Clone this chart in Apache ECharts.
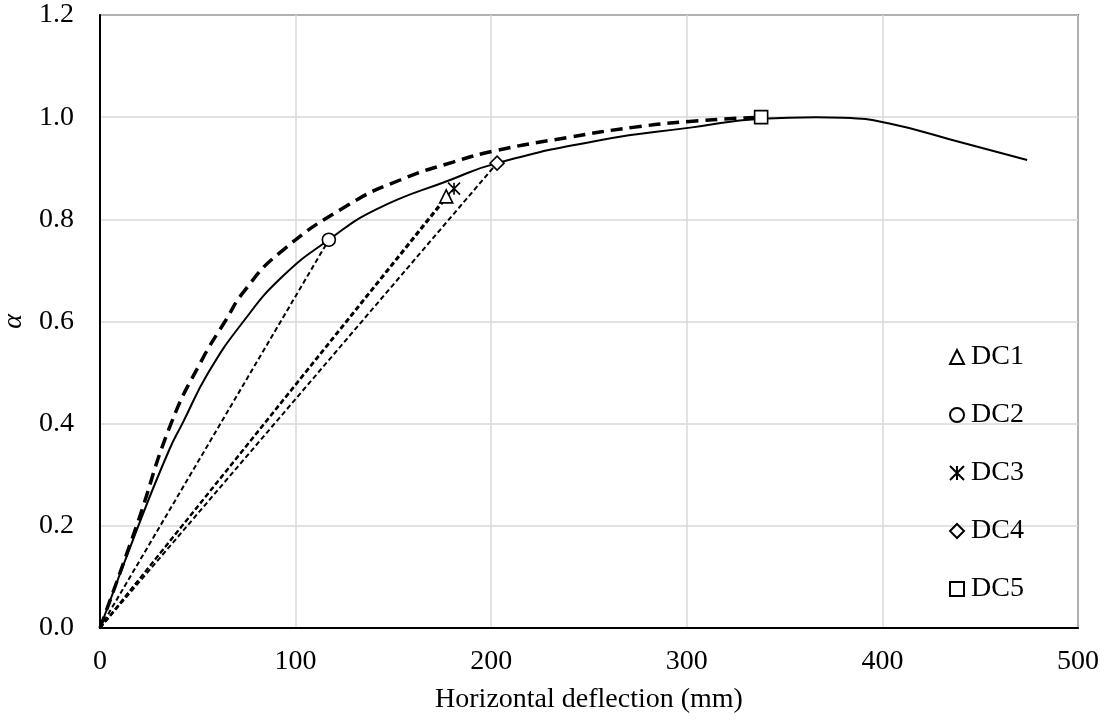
<!DOCTYPE html>
<html>
<head>
<meta charset="utf-8">
<script src="https://cdn.jsdelivr.net/npm/echarts@6/dist/echarts.min.js"></script>
<style>html,body{margin:0;padding:0;background:#fff}#c{width:1118px;height:722px}</style>
</head>
<body>
<div id="c"></div>
<script>
// Solid curve
const solidX = [0, 19.6, 35.3, 42.1, 55.4, 73.3, 93, 117, 141.5, 179, 203, 255.6, 302.7, 338, 366, 380, 403, 440, 474];
const solidY = [0, 0.2, 0.348, 0.4, 0.5, 0.6, 0.687, 0.76, 0.82, 0.877, 0.91, 0.955, 0.98, 0.997, 1.0, 0.999, 0.988, 0.951, 0.916];
// Thick dashed curve
const dashX = [0, 18.7, 36.3, 52, 63.9, 74, 92, 126.8, 153.4, 180.5, 203, 238.7, 272.5, 303, 338];
const dashY = [0, 0.2, 0.4, 0.524, 0.6, 0.661, 0.735, 0.828, 0.877, 0.912, 0.935, 0.96, 0.98, 0.992, 1.0];
// Marker points
const dcNames = ['DC1', 'DC2', 'DC3', 'DC4', 'DC5'];
const dcX = [177, 117, 181, 203, 338];
const dcY = [0.845, 0.76, 0.86, 0.91, 1.0];
const xTicks = [0, 100, 200, 300, 400, 500];
const yTicks = [0, 0.2, 0.4, 0.6, 0.8, 1.0, 1.2];

const FONT = '"Liberation Serif", "DejaVu Serif", serif';
const pairs = (xs, ys) => xs.map((x, i) => [x, ys[i]]);

const symbols = ['triangle', 'circle', 'path://M0,0 L10,10 M10,0 L0,10 M5,0 L5,10', 'diamond', 'rect'];
const sizes = [13, 13, 12, 14, 13];

const series = [];
// thin dashed lines from origin to DC1..DC4
for (let i = 0; i < 4; i++) {
  series.push({
    type: 'line', name: 'ray' + i, data: [[0, 0], [dcX[i], dcY[i]]],
    symbol: 'none', silent: true, z: 2,
    lineStyle: { color: '#000', width: 2, type: [5, 3] }
  });
}
series.push({
  type: 'line', name: 'solid', data: pairs(solidX, solidY), symbol: 'none',
  smooth: 0.5, z: 3,
  lineStyle: { color: '#000', width: 2 }
});
series.push({
  type: 'line', name: 'dash', data: pairs(dashX, dashY), symbol: 'none',
  smooth: 0.5, z: 3,
  lineStyle: { color: '#000', width: 3.5, type: [12, 7] }
});
dcNames.forEach((n, i) => {
  series.push({
    type: 'scatter', name: n, data: [[dcX[i], dcY[i]]],
    symbol: symbols[i], symbolSize: sizes[i], z: 5,
    itemStyle: { color: i === 2 ? 'rgba(0,0,0,0)' : '#fff', borderColor: '#000', borderWidth: 1.6, opacity: 1 }
  });
});

const chart = echarts.init(document.getElementById('c'), null, { renderer: 'canvas' });
chart.setOption({
  animation: false,
  backgroundColor: '#fff',
  textStyle: { fontFamily: FONT },
  grid: { left: 100, right: 40, top: 15, bottom: 94, containLabel: false, outerBoundsMode: 'none', show: true, borderColor: '#000', borderWidth: 1.5, backgroundColor: 'transparent' },
  xAxis: {
    type: 'value', min: xTicks[0], max: xTicks[xTicks.length - 1], interval: 100,
    name: 'Horizontal deflection (mm)', nameLocation: 'middle', nameGap: 58,
    nameTextStyle: { fontFamily: FONT, fontSize: 28, color: '#000' },
    axisLine: { lineStyle: { color: '#000', width: 2 } },
    axisTick: { show: false },
    axisLabel: { fontFamily: FONT, fontSize: 28, color: '#000', margin: 20 },
    splitLine: { lineStyle: { color: '#d9d9d9', width: 1.5 } }
  },
  yAxis: {
    type: 'value', min: yTicks[0], max: yTicks[yTicks.length - 1], interval: 0.2,
    name: 'α', nameLocation: 'middle', nameGap: 72, nameRotate: 90,
    nameTextStyle: { fontFamily: FONT, fontSize: 28, color: '#000', fontStyle: 'italic' },
    axisLine: { show: true, lineStyle: { color: '#000', width: 2 } },
    axisTick: { show: false },
    axisLabel: { fontFamily: FONT, fontSize: 28, color: '#000', margin: 26, formatter: v => v.toFixed(1) },
    splitLine: { lineStyle: { color: '#d9d9d9', width: 1.5 } }
  },
  legend: {
    data: dcNames, orient: 'vertical', left: 944, top: 337,
    itemWidth: 14, itemHeight: 14, itemGap: 28,
    textStyle: { fontFamily: FONT, fontSize: 28, color: '#000', lineHeight: 30, padding: [0, 0, 0, 2] },
    selectedMode: false
  },
  series
});
</script>
</body>
</html>
